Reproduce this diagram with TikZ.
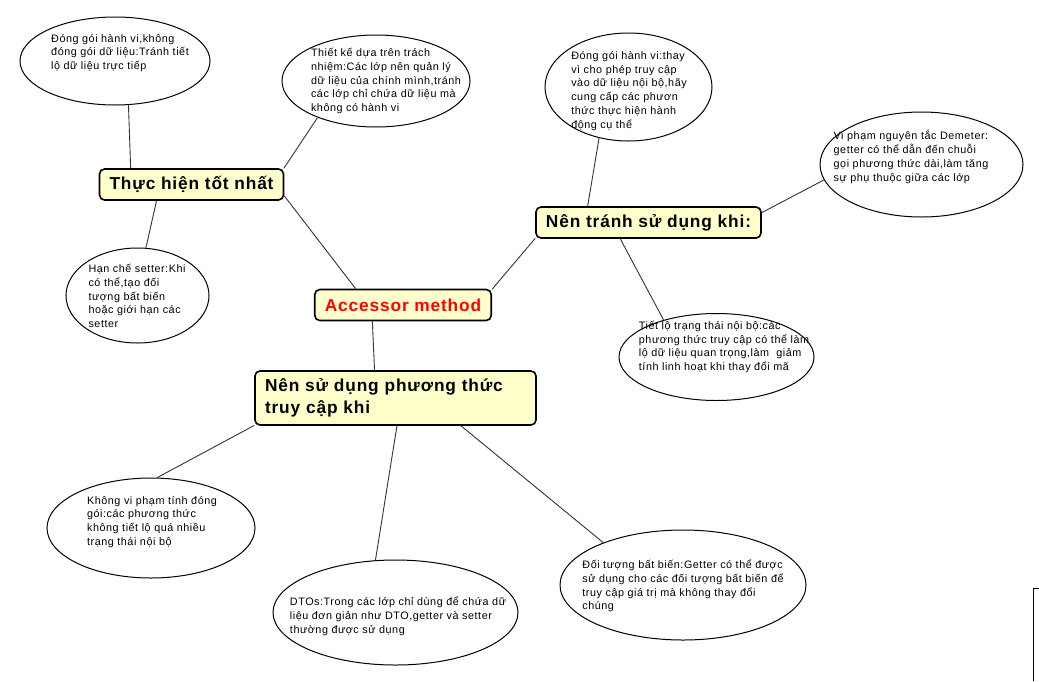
\documentclass[tikz,border=0pt]{standalone}
\usepackage{fontspec}
\setmainfont{Liberation Sans}
\newfontfamily\notefont[LetterSpace=5]{Liberation Sans}
\newfontfamily\headfont[LetterSpace=5]{Liberation Sans}
\usepackage{xcolor}
\usepackage{tikz}
\usetikzlibrary{shapes.geometric}
\definecolor{TopicFill}{HTML}{FFFFCC}
\definecolor{TopicRed}{HTML}{FF0000}
\definecolor{LineGray}{HTML}{333333}

\begin{document}
\begin{tikzpicture}[x=1pt, y=-1pt,
        topic/.style={draw=black, line width=1.6pt, rounded corners=5pt, fill=TopicFill,
                    minimum height=31pt, inner xsep=10pt, inner ysep=3pt,
                    font=\headfont\fontsize{17.3}{22}\selectfont\bfseries},
        bubble/.style={draw=black, line width=1pt, ellipse, inner sep=0pt},
        note/.style={align=left, inner sep=0pt,
                    font=\notefont\fontsize{10.8}{13.8}\selectfont},
        link/.style={draw=LineGray, line width=0.9pt}]

        \path[use as bounding box, fill=white] (0,0) rectangle (1039,681);

        % Central topic
        \node[topic, minimum width=174pt, text=TopicRed] (acc) at (403,305) {Accessor method};

        % Branch topics
        \node[topic, minimum width=183pt] (best)  at (191.5,184.5) {Thực hiện tốt nhất};
        \node[topic, minimum width=223pt] (avoid) at (648.5,222.5) {Nên tránh sử dụng khi:};
        \node[topic, text width=261pt, align=left, minimum height=54pt] (use) at (395.5,398)
            {Nên sử dụng phương thức\\truy cập khi};

        % Notes — best practice
        \node[bubble, minimum width=190pt, minimum height=88pt] (encap) at (115,61) {};
        \node[note] (encapTx) at (120,53) {Đóng gói hành vi,không\\đóng gói dữ liệu:Tránh tiết\\lộ dữ liệu trực tiếp};
        \node[bubble, minimum width=188pt, minimum height=92pt] (resp) at (376,81) {};
        \node[note] (respTx) at (386,81) {Thiết kế dựa trên trách\\nhiệm:Các lớp nên quản lý\\dữ liệu của chính mình,tránh\\các lớp chỉ chứa dữ liệu mà\\không có hành vi};
        \node[bubble, minimum width=143pt, minimum height=95pt] (setter) at (137.5,295.5) {};
        \node[note] (setterTx) at (137,296) {Hạn chế setter:Khi\\có thể,tạo đối\\tượng bất biến\\hoặc giới hạn các\\setter};

        % Notes — avoid
        \node[bubble, minimum width=167pt, minimum height=108pt] (behav) at (628.5,87) {};
        \node[note] (behavTx) at (629,91) {Đóng gói hành vi:thay\\vì cho phép truy cập\\vào dữ liệu nội bộ,hãy\\cung cấp các phươn\\thức thực hiện hành\\động cụ thể};
        \node[bubble, minimum width=203pt, minimum height=105pt] (demeter) at (921.5,164.5) {};
        \node[note] (demeterTx) at (911,157) {Vi phạm nguyên tắc Demeter:\\getter có thể dẫn đến chuỗi\\gọi phương thức dài,làm tăng\\sự phụ thuộc giữa các lớp};
        \node[bubble, minimum width=195pt, minimum height=87pt] (expose) at (716.5,357) {};
        \node[note] (exposeTx) at (724,347) {Tiết lộ trạng thái nội bộ:các\\phương thức truy cập có thể làm\\lộ dữ liệu quan trọng,làm\ \ giảm\\tính linh hoạt khi thay đổi mã};

        % Notes — when to use
        \node[bubble, minimum width=208pt, minimum height=100pt] (noviol) at (151,528) {};
        \node[note] (noviolTx) at (152,522) {Không vi phạm tính đóng\\gói:các phương thức\\không tiết lộ quá nhiều\\trạng thái nội bộ};
        \node[bubble, minimum width=245pt, minimum height=105pt] (dto) at (395.5,612.5) {};
        \node[note] (dtoTx) at (398,616) {DTOs:Trong các lớp chỉ dùng để chứa dữ\\liệu đơn giản như DTO,getter và setter\\thường được sử dụng};
        \node[bubble, minimum width=246pt, minimum height=110pt] (immut) at (683,585) {};
        \node[note] (immutTx) at (683,586) {Đối tượng bất biến:Getter có thể được\\sử dụng cho các đối tượng bất biến để\\truy cập giá trị mà không thay đổi\\chúng};

        % Links
        \draw[link] (acc.161)   -- (best.-7);
        \draw[link] (acc.10)    -- (avoid.-172);
        \draw[link] (acc.-152)  -- (use.127);
        \draw[link] (best.165)  -- (encap.-73);
        \draw[link] (best.10)   -- (resp.212);
        \draw[link] (best.-155) -- (setter.80);
        \draw[link] (avoid.165) -- (behav.-120);
        \draw[link] (avoid.5)   -- (demeter.189);
        \draw[link] (avoid.-150) -- (expose.145);
        \draw[link] (use.-169)  -- (noviol.83);
        \draw[link] (use.-87)   -- (dto.111);
        \draw[link] (use.-23)   -- (immut.152);

        % Edge of a cut-off box
        \draw[line width=1pt] (1033,681) -- (1033,588) -- (1039,588);
      \end{tikzpicture}
\end{document}
